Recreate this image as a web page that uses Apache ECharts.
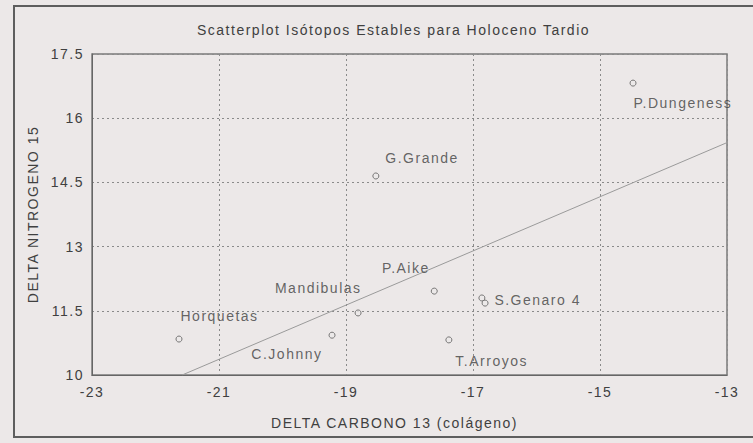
<!DOCTYPE html>
<html>
<head>
<meta charset="utf-8">
<script src="https://cdn.jsdelivr.net/npm/echarts@6/dist/echarts.min.js"></script>
<style>
  html, body { margin: 0; padding: 0; background: #ece8e8; }
  #chart { width: 753px; height: 443px; }
  #chart text { letter-spacing: 1.5px; }
</style>
</head>
<body>
<div id="chart"></div>
<script>
// ---- data ----
const siteNames  = ['P.Dungeness', 'G.Grande', 'P.Aike', 'S.Genaro 4', '', 'Mandibulas', 'C.Johnny', 'Horquetas', 'T.Arroyos'];
const carbon13   = [-14.48, -18.53, -17.61, -16.86, -16.81, -18.81, -19.22, -21.63, -17.38];
const nitrogen15 = [16.82, 14.65, 11.96, 11.80, 11.68, 11.45, 10.93, 10.84, 10.82];
const trendCarbon   = [-21.58, -13];
const trendNitrogen = [10, 15.43];
const xAxisRange = [-23, -13];
const yAxisRange = [10, 17.5];
const xTickStep = 2;
const yTickStep = 1.5;
const titleText = 'Scatterplot Isótopos Estables para Holoceno Tardio';
const xAxisTitle = 'DELTA CARBONO 13 (colágeno)';
const yAxisTitle = 'DELTA NITROGENO 15';

// ---- label placement (style, kept separate from data) ----
const labelPlacement = {
  'P.Dungeness': { align: 'left',  dx: 1,  dy: 20 },
  'G.Grande':    { align: 'left',  dx: 10, dy: -17 },
  'P.Aike':      { align: 'right', dx: -4, dy: -23 },
  'S.Genaro 4':  { align: 'left',  dx: 13, dy: 3 },
  'Mandibulas':  { align: 'right', dx: 4,  dy: -24 },
  'C.Johnny':    { align: 'right', dx: -9, dy: 19 },
  'Horquetas':   { align: 'left',  dx: 2,  dy: -23 },
  'T.Arroyos':   { align: 'left',  dx: 7,  dy: 22 }
};

const FONT = '"Liberation Sans", Arial, Helvetica, sans-serif';
const TEXT = '#404040';
const SYM = 6;

const points = siteNames.map((n, i) => {
  const p = labelPlacement[n];
  return {
    name: n,
    value: [carbon13[i], nitrogen15[i]],
    label: p ? {
      show: true,
      formatter: n,
      position: [SYM / 2 + p.dx, SYM / 2 + p.dy],
      align: p.align,
      verticalAlign: 'middle'
    } : { show: false }
  };
});

const chart = echarts.init(document.getElementById('chart'), null, { renderer: 'svg' });
chart.setOption({
  backgroundColor: '#ece8e8',
  animation: false,
  title: {
    text: titleText,
    left: 192,
    top: 18,
    textStyle: { fontFamily: FONT, fontSize: 14, fontWeight: 'normal', color: TEXT }
  },
  grid: {
    left: 92, right: 26, top: 54, bottom: 68,
    show: true, borderColor: '#7a7a7a', borderWidth: 1.5, backgroundColor: 'transparent'
  },
  graphic: [{
    type: 'rect',
    shape: { x: 14, y: 6, width: 760, height: 431 },
    style: { fill: 'none', stroke: '#5e5e5e', lineWidth: 2 },
    silent: true, z: -1
  }],
  xAxis: {
    type: 'value',
    min: xAxisRange[0], max: xAxisRange[1], interval: xTickStep,
    name: xAxisTitle, nameLocation: 'middle', nameGap: 41,
    nameTextStyle: { fontFamily: FONT, fontSize: 14, color: TEXT, padding: [0, 30, 0, 0] },
    axisLine: { show: true, lineStyle: { color: '#666', width: 1 } },
    axisTick: { show: false },
    axisLabel: { fontFamily: FONT, fontSize: 14, color: TEXT, margin: 10 },
    splitLine: { show: true, lineStyle: { color: '#8a8a8a', type: [2, 3], width: 1 } }
  },
  yAxis: {
    type: 'value',
    min: yAxisRange[0], max: yAxisRange[1], interval: yTickStep,
    name: yAxisTitle, nameLocation: 'middle', nameGap: 52, nameRotate: 90,
    nameTextStyle: { fontFamily: FONT, fontSize: 14, color: TEXT },
    axisLine: { show: true, lineStyle: { color: '#666', width: 1 } },
    axisTick: { show: false },
    axisLabel: { fontFamily: FONT, fontSize: 14, color: TEXT, margin: 8 },
    splitLine: { show: true, lineStyle: { color: '#8a8a8a', type: [2, 3], width: 1 } }
  },
  series: [
    {
      type: 'line',
      data: trendCarbon.map((x, i) => [x, trendNitrogen[i]]),
      showSymbol: false,
      lineStyle: { color: '#9a9a9a', width: 1 },
      silent: true, z: 1
    },
    {
      type: 'scatter',
      data: points,
      symbol: 'circle',
      symbolSize: SYM,
      itemStyle: { color: '#ece8e8', borderColor: '#5a5a5a', borderWidth: 1 },
      label: { fontFamily: FONT, fontSize: 14, color: TEXT },
      z: 3
    }
  ]
});
</script>
</body>
</html>
